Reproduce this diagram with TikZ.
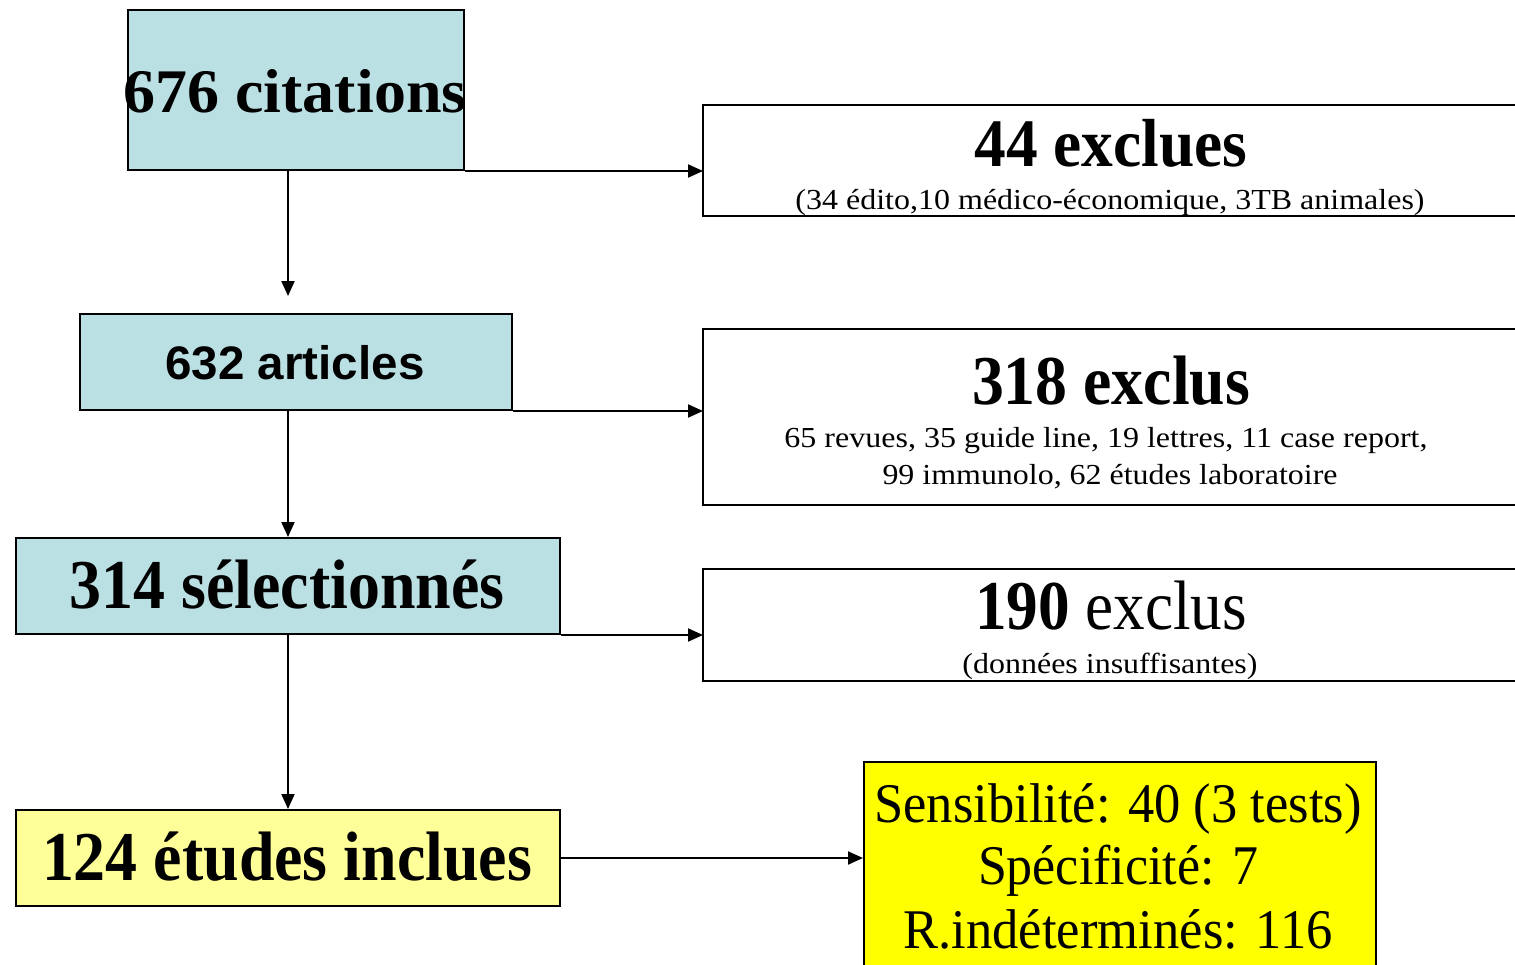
\documentclass[tikz,border=0pt]{standalone}
\usepackage{fontspec}
\setmainfont{Liberation Serif}
\newfontfamily\arialfont{Liberation Sans}
\usetikzlibrary{arrows.meta}
\definecolor{lblue}{RGB}{186,224,227}
\definecolor{lyellow}{RGB}{255,255,153}
\definecolor{byellow}{RGB}{255,255,0}
\newcommand{\fitw}[2]{\resizebox{#1pt}{\height}{#2}}
\newcommand{\fs}[1]{\fontsize{#1}{#1}\selectfont}
\tikzset{
  box/.style={draw=black, line width=2pt, inner sep=0pt, anchor=north west},
  openbox/.style={inner sep=0pt, anchor=north west},
  txt/.style={inner sep=0pt, anchor=base},
  arr/.style={line width=2pt, -{Triangle[length=15pt,width=13pt]}},
}
\begin{document}
\begin{tikzpicture}[x=1pt,y=-1pt]
\useasboundingbox (0,0) rectangle (1515,964);
\clip (0,0) rectangle (1515,964);
% left boxes
\node[box, fill=lblue, minimum width=336pt, minimum height=160pt] (c1) at (127,9) {};
\node[box, fill=lblue, minimum width=432pt, minimum height=96pt] (c2) at (79,313) {};
\node[box, fill=lblue, minimum width=544pt, minimum height=96pt] (c3) at (15,537) {};
\node[box, fill=lyellow, minimum width=544pt, minimum height=96pt] (c4) at (15,809) {};
% right boxes (open on the right)
\node[openbox, minimum width=820pt, minimum height=111pt] (r1) at (703,105) {};
\node[openbox, minimum width=820pt, minimum height=176pt] (r2) at (703,329) {};
\node[openbox, minimum width=820pt, minimum height=112pt] (r3) at (703,569) {};
\draw[line width=2pt] (r1.north east) -- (r1.north west) -- (r1.south west) -- (r1.south east);
\draw[line width=2pt] (r2.north east) -- (r2.north west) -- (r2.south west) -- (r2.south east);
\draw[line width=2pt] (r3.north east) -- (r3.north west) -- (r3.south west) -- (r3.south east);
\node[box, fill=byellow, minimum width=512pt, minimum height=240pt] (y1) at (863,761) {};
% texts
\node[txt] (t1) at (295,112) {\fitw{343}{\fs{62}\bfseries 676 citations}};
\node[txt] (t2) at (295,379) {\fitw{259}{\arialfont\fs{47}\bfseries 632 articles}};
\node[txt] (t3) at (287,608) {\fitw{435}{\fs{70}\bfseries 314 sélectionnés}};
\node[txt] (t4) at (287,880) {\fitw{490}{\fs{70}\bfseries 124 études inclues}};
\node[txt] (u1) at (1111,166) {\fitw{273}{\fs{68}\bfseries 44 exclues}};
\node[txt] (u1b) at (1110,209) {\fitw{629}{\fs{29}(34 édito,10 médico-économique, 3TB animales)}};
\node[txt] (u2) at (1111,404) {\fitw{278}{\fs{70}\bfseries 318 exclus}};
\node[txt] (u2b) at (1106,447) {\fitw{643}{\fs{29}65 revues, 35 guide line, 19 lettres, 11 case report,}};
\node[txt] (u2c) at (1110,484) {\fitw{455}{\fs{29}99 immunolo, 62 études laboratoire}};
\node[txt] (u3) at (1111,629) {\fitw{272}{\fs{70}\textbf{190} exclus}};
\node[txt] (u3b) at (1110,673) {\fitw{295}{\fs{29}(données insuffisantes)}};
\node[txt] (v1) at (1118,822) {\fitw{487}{\fs{56}Sensibilité: 40 (3 tests)}};
\node[txt] (v2) at (1118,884) {\fitw{280}{\fs{56}Spécificité: 7}};
\node[txt] (v3) at (1118,948) {\fitw{429}{\fs{56}R.indéterminés: 116}};
% connectors
\draw[arr] (c1.south east) -- (r1.west |- c1.south east);
\draw[arr] (c2.south east) -- (r2.west |- c2.south east);
\draw[arr] (c3.south east) -- (r3.west |- c3.south east);
\draw[arr] (c4.east) -- (y1.west |- c4.east);
\draw[arr, shorten >=17pt] (c1.south -| c3.north) -- (c2.north -| c3.north);
\draw[arr] (c2.south -| c3.north) -- (c3.north);
\draw[arr] (c3.south) -- (c4.north);
\end{tikzpicture}
\end{document}
